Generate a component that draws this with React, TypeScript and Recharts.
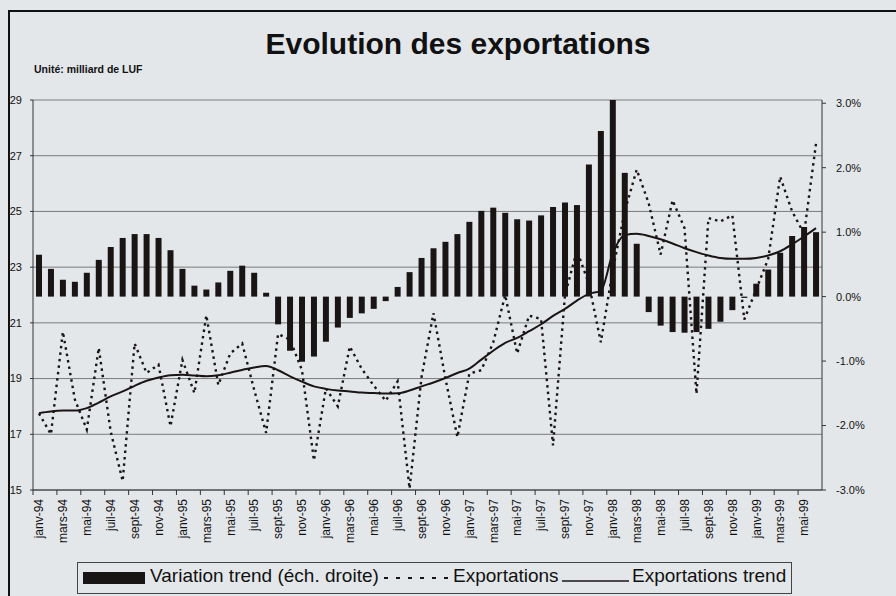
import React from 'react';
import { ComposedChart, Bar, Line, XAxis, YAxis, CartesianGrid } from 'recharts';

const FONT = '"Liberation Sans", Arial, sans-serif';

const months = [
  'janv-94', 'févr-94', 'mars-94', 'avr-94', 'mai-94', 'juin-94', 'juil-94', 'août-94', 'sept-94', 'oct-94', 'nov-94', 'déc-94',
  'janv-95', 'févr-95', 'mars-95', 'avr-95', 'mai-95', 'juin-95', 'juil-95', 'août-95', 'sept-95', 'oct-95', 'nov-95', 'déc-95',
  'janv-96', 'févr-96', 'mars-96', 'avr-96', 'mai-96', 'juin-96', 'juil-96', 'août-96', 'sept-96', 'oct-96', 'nov-96', 'déc-96',
  'janv-97', 'févr-97', 'mars-97', 'avr-97', 'mai-97', 'juin-97', 'juil-97', 'août-97', 'sept-97', 'oct-97', 'nov-97', 'déc-97',
  'janv-98', 'févr-98', 'mars-98', 'avr-98', 'mai-98', 'juin-98', 'juil-98', 'août-98', 'sept-98', 'oct-98', 'nov-98', 'déc-98',
  'janv-99', 'févr-99', 'mars-99', 'avr-99', 'mai-99', 'juin-99',
];

// Variation trend (% , right scale)
const variation = [
  0.65, 0.43, 0.26, 0.23, 0.37, 0.57, 0.77, 0.91, 0.97, 0.97, 0.91, 0.72,
  0.43, 0.17, 0.11, 0.22, 0.40, 0.48, 0.37, 0.06, -0.43, -0.84, -1.01, -0.93,
  -0.70, -0.48, -0.33, -0.26, -0.19, -0.07, 0.15, 0.38, 0.60, 0.75, 0.85, 0.97,
  1.16, 1.33, 1.38, 1.30, 1.20, 1.18, 1.26, 1.39, 1.46, 1.42, 2.05, 2.57,
  3.05, 1.92, 0.82, -0.24, -0.45, -0.55, -0.56, -0.55, -0.50, -0.39, -0.21, -0.02,
  0.20, 0.42, 0.68, 0.94, 1.08, 1.00,
];

// Exportations (milliard de LUF, left scale)
const exportations = [
  17.75, 17.0, 20.68, 18.25, 17.17, 20.1, 17.1, 15.32, 20.26, 19.2, 19.5, 17.29,
  19.67, 18.48, 21.27, 18.77, 19.9, 20.26, 18.6, 17.05, 20.6, 20.4, 19.3, 16.06,
  18.65, 18.0, 20.15, 19.35, 18.75, 18.2, 18.9, 15.05, 19.05, 21.35, 19.0, 16.9,
  19.18, 19.3, 20.3, 22.0, 19.9, 21.26, 21.14, 16.6, 22.0, 23.6, 22.4, 20.3,
  22.9, 25.0, 26.5, 25.3, 23.45, 25.4, 24.4, 18.45, 24.76, 24.64, 24.86, 21.12,
  22.2, 23.3, 26.25, 25.0, 24.2, 27.44,
];

// Exportations trend (left scale)
const trend = [
  17.76, 17.82, 17.85, 17.85, 17.94, 18.14, 18.36, 18.54, 18.74, 18.92, 19.04, 19.12,
  19.14, 19.11, 19.08, 19.12, 19.21, 19.31, 19.4, 19.45, 19.3, 19.08, 18.89, 18.72,
  18.63, 18.57, 18.54, 18.5, 18.48, 18.46, 18.47, 18.57, 18.72, 18.86, 19.02, 19.2,
  19.36, 19.68, 20.0, 20.28, 20.46, 20.7, 20.95, 21.25, 21.5, 21.8, 22.04, 22.15,
  23.5, 24.15, 24.2, 24.12, 24.0, 23.85, 23.68, 23.54, 23.42, 23.33, 23.3, 23.3,
  23.33, 23.42, 23.57, 23.82, 24.1, 24.4,
];

const leftTicks = [15, 17, 19, 21, 23, 25, 27, 29];
const rightTicks = [-3, -2, -1, 0, 1, 2, 3];

const data = months.map((m, i) => ({
  month: m,
  variation: variation[i],
  exportations: exportations[i],
  trend: trend[i],
}));

const HALF_STEP = 789 / months.length / 2;

const XTick = (props: any) => {
  const { x, y, payload } = props;
  return (
    <g transform={`translate(${x},${y})`}>
      <line x1={-HALF_STEP} x2={-HALF_STEP} y1={-9} y2={-4} stroke="#333" strokeWidth={1} />
      <text
        transform="rotate(-90)"
        x={0}
        y={0}
        dy="0.36em"
        textAnchor="end"
        fontSize={12}
        fontFamily={FONT}
        fill="#111"
      >
        {payload.value}
      </text>
    </g>
  );
};

const BG = '#e4e7ea';
const INK = '#1a1515';

export default function App() {
  return (
    <div
      style={{
        position: 'absolute',
        left: 0,
        top: 0,
        width: 896,
        height: 596,
        background: BG,
        overflow: 'hidden',
        fontFamily: FONT,
      }}
    >
      <div
        style={{
          position: 'absolute',
          left: 8,
          top: 10,
          width: 900,
          height: 600,
          borderLeft: '2px solid #111',
          borderTop: '2px solid #111',
        }}
      />
      <div
        style={{
          position: 'absolute',
          left: 0,
          width: 916,
          top: 27,
          textAlign: 'center',
          fontSize: 30,
          fontWeight: 'bold',
          color: '#111',
          lineHeight: '34px',
        }}
      >
        Evolution des exportations
      </div>
      <div
        style={{
          position: 'absolute',
          left: 34,
          top: 63,
          fontSize: 10.5,
          fontWeight: 'bold',
          color: '#111',
          lineHeight: '12px',
        }}
      >
        Unité: milliard de LUF
      </div>
      <div style={{ position: 'absolute', left: 0, top: 0 }}>
        <ComposedChart
          width={896}
          height={596}
          data={data}
          margin={{ top: 100, right: 8, bottom: 46, left: 8 }}
          barSize={6}
        >
          <CartesianGrid yAxisId="left" vertical={false} stroke="#7a7a7a" strokeWidth={1} />
          <XAxis
            dataKey="month"
            interval={1}
            height={60}
            tickSize={4}
            tickMargin={5}
            tickLine={false}
            axisLine={{ stroke: '#333' }}
            tick={<XTick />}
          />
          <YAxis
            yAxisId="left"
            orientation="left"
            width={25}
            domain={[15, 29]}
            ticks={leftTicks}
            interval={0}
            tickSize={3}
            tickMargin={8}
            axisLine={{ stroke: '#333' }}
            tickLine={{ stroke: '#333' }}
            tick={{ fontSize: 11, fill: '#111', fontFamily: FONT }}
          />
          <YAxis
            yAxisId="right"
            orientation="right"
            width={66}
            domain={[-3, 3]}
            ticks={rightTicks}
            interval={0}
            tickSize={4}
            tickMargin={10}
            axisLine={{ stroke: '#333' }}
            tickLine={{ stroke: '#333' }}
            tickFormatter={(v: number) => `${v.toFixed(1)}%`}
            tick={{ fontSize: 11, fill: '#111', fontFamily: FONT, textAnchor: 'start' }}
          />
          <Bar yAxisId="right" dataKey="variation" fill={INK} isAnimationActive={false} />
          <Line
            yAxisId="left"
            type="linear"
            dataKey="exportations"
            stroke={INK}
            strokeWidth={2.4}
            strokeDasharray="2.5 4"
            dot={false}
            activeDot={false}
            isAnimationActive={false}
          />
          <Line
            yAxisId="left"
            type="monotone"
            dataKey="trend"
            stroke={INK}
            strokeWidth={2}
            dot={false}
            activeDot={false}
            isAnimationActive={false}
          />
        </ComposedChart>
      </div>
      <svg
        width={896}
        height={596}
        style={{ position: 'absolute', left: 0, top: 0, pointerEvents: 'none' }}
      >
        <rect x={77.5} y={562.5} width={714} height={31} fill="none" stroke="#444" strokeWidth={1} />
        <rect x={83} y={572} width={62} height={12} fill={INK} />
        <text x={150} y={582} fontSize={19} fontFamily={FONT} fill="#111">
          Variation trend (éch. droite)
        </text>
        <line x1={384} x2={450} y1={578} y2={578} stroke={INK} strokeWidth={2} strokeDasharray="4 8" />
        <text x={453} y={582} fontSize={19} fontFamily={FONT} fill="#111">
          Exportations
        </text>
        <line x1={562} x2={629} y1={581} y2={581} stroke={INK} strokeWidth={1.5} />
        <text x={632} y={582} fontSize={19} fontFamily={FONT} fill="#111">
          Exportations trend
        </text>
      </svg>
    </div>
  );
}
